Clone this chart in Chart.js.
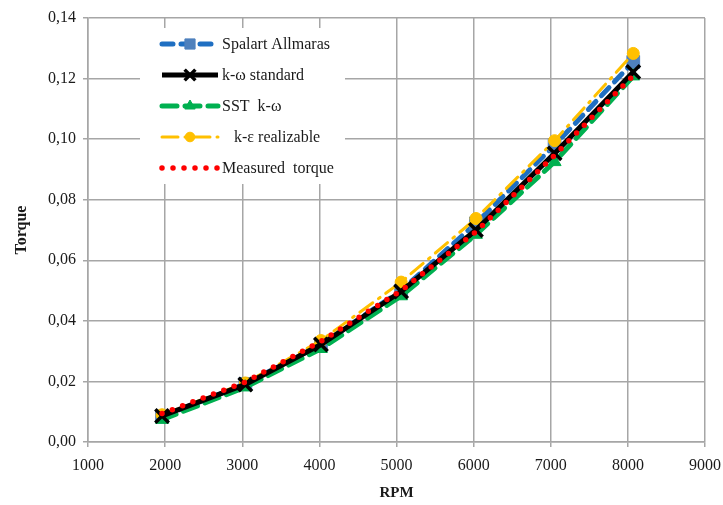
<!DOCTYPE html>
<html>
<head>
<meta charset="utf-8">
<script src="https://cdn.jsdelivr.net/npm/chart.js@4"></script>
<style>
  html, body { margin: 0; padding: 0; background: #fff; }
  #wrap { position: relative; width: 723px; height: 505px; }
</style>
</head>
<body>
<div id="wrap"><canvas id="c" width="723" height="505"></canvas></div>
<script>
/* Torque vs RPM: four CFD turbulence models against the measured torque. */
var RPM       = [1960, 3040, 4020, 5060, 6030, 7050, 8070];
var SPALART   = [0.0084, 0.0192, 0.0322, 0.0500, 0.0722, 0.0980, 0.1255];
var KW_STD    = [0.0086, 0.0190, 0.0322, 0.0497, 0.0700, 0.0953, 0.1222];
var SST_KW    = [0.0074, 0.0181, 0.0308, 0.0482, 0.0685, 0.0925, 0.1208];
var KE_REAL   = [0.0090, 0.0195, 0.0335, 0.0528, 0.0738, 0.0995, 0.1283];
var MEASURED  = [0.0094, 0.0198, 0.0332, 0.0500, 0.0694, 0.0947, 0.1210];
var LABELS    = ["Spalart Allmaras", "k-\u03c9 standard", "SST  k-\u03c9", "   k-\u03b5 realizable", "Measured  torque"];

var GRID = "#a6a6a6";
var SERIF = "'Liberation Serif', 'DejaVu Serif', serif";

function pts(ys) { return RPM.map(function (x, i) { return { x: x, y: ys[i] }; }); }

var datasets = [
  { label: LABELS[0], data: pts(SPALART), borderColor: "#1f6fc2", borderWidth: 5,
    borderDash: [11, 8], borderCapStyle: "round",
    pointStyle: "rect", pointRadius: 9, pointBackgroundColor: "#4f81bd",
    pointBorderColor: "#4f81bd", pointBorderWidth: 1, order: 5 },
  { label: LABELS[1], data: pts(KW_STD), borderColor: "#000", borderWidth: 5,
    pointStyle: "crossRot", pointRadius: 9.5, pointBorderColor: "#000",
    pointBackgroundColor: "#000", pointBorderWidth: 3.5, order: 2 },
  { label: LABELS[2], data: pts(SST_KW), borderColor: "#00b050", borderWidth: 5,
    borderDash: [15, 8], borderCapStyle: "round",
    pointStyle: "triangle", pointRadius: 7.5, pointBackgroundColor: "#00b050",
    pointBorderColor: "#00b050", pointBorderWidth: 1, order: 3 },
  { label: LABELS[3], data: pts(KE_REAL), borderColor: "#ffc000", borderWidth: 3,
    borderDash: [16, 7, 2, 7], borderCapStyle: "round",
    pointStyle: "circle", pointRadius: 6, pointBackgroundColor: "#ffc000",
    pointBorderColor: "#ffc000", pointBorderWidth: 1, order: 4 },
  { label: LABELS[4], data: pts(MEASURED), borderColor: "#ff0000", borderWidth: 5.5,
    borderDash: [0, 11], borderCapStyle: "round",
    pointRadius: 0, order: 1 }
];

/* Legend box drawn inside the plot area, over the grid, Excel style. */
var insideLegend = {
  id: "insideLegend",
  beforeDatasetsDraw: function (chart) {
    var ctx = chart.ctx, a = chart.chartArea;
    var x0 = a.left + 52, y0 = a.top + 10, rowH = 31;
    ctx.save();
    ctx.fillStyle = "#fff";
    ctx.fillRect(x0, y0, 205, 156);
    chart.data.datasets.forEach(function (ds, i) {
      var y = y0 + 16 + i * rowH;
      var lx1 = x0 + 22, lx2 = x0 + 78, mx = x0 + 50;
      ctx.save();
      ctx.strokeStyle = ds.borderColor;
      ctx.lineWidth = ds.borderWidth;
      ctx.lineCap = ds.borderCapStyle || "butt";
      ctx.setLineDash(ds.borderDash || []);
      ctx.beginPath();
      ctx.moveTo(lx1, y);
      ctx.lineTo(lx2, y);
      ctx.stroke();
      ctx.restore();
      if (ds.pointRadius > 0) {
        ctx.save();
        ctx.fillStyle = ds.pointBackgroundColor;
        ctx.strokeStyle = ds.pointBorderColor;
        ctx.lineWidth = ds.pointBorderWidth;
        Chart.helpers.drawPoint(ctx, {
          pointStyle: ds.pointStyle, radius: ds.pointRadius * 0.8,
          rotation: 0, borderWidth: ds.pointBorderWidth
        }, mx, y);
        ctx.restore();
      }
      ctx.fillStyle = "#1a1a1a";
      ctx.font = "16px " + SERIF;
      ctx.textBaseline = "middle";
      ctx.fillText(ds.label, x0 + 82, y + 1);
    });
    ctx.restore();
  }
};

new Chart(document.getElementById("c"), {
  type: "scatter",
  data: { datasets: datasets },
  plugins: [insideLegend],
  options: {
    responsive: false, animation: false,
    layout: { padding: { top: 18, right: 18, left: 0, bottom: 0 } },
    elements: { line: { tension: 0 } },
    datasets: { scatter: { showLine: true } },
    plugins: { legend: { display: false }, tooltip: { enabled: false } },
    scales: {
      x: {
        type: "linear", min: 1000, max: 9000,
        afterFit: function (s) { s.height = 63; s.paddingRight = 0; s.paddingLeft = 0; },
        ticks: { stepSize: 1000, color: "#1a1a1a", padding: 9,
                 font: { family: SERIF, size: 16 },
                 callback: function (v) { return String(v); } },
        grid: { color: GRID, lineWidth: 1.5, tickLength: 5, tickColor: GRID },
        border: { color: GRID, width: 1.5 },
        title: { display: true, text: "RPM", color: "#1a1a1a",
                 font: { family: SERIF, size: 15, weight: "bold" },
                 padding: { top: 0, bottom: 3 } }
      },
      y: {
        min: 0, max: 0.14,
        afterFit: function (s) { s.width = 88; },
        ticks: { stepSize: 0.02, color: "#1a1a1a", padding: 7,
                 font: { family: SERIF, size: 16 },
                 callback: function (v) { return v.toFixed(2).replace(".", ","); } },
        grid: { color: GRID, lineWidth: 1.5, tickLength: 5, tickColor: GRID },
        border: { color: GRID, width: 1.5 },
        title: { display: true, text: "Torque", color: "#1a1a1a",
                 font: { family: SERIF, size: 16, weight: "bold" },
                 padding: { top: 12, bottom: 0 } }
      }
    }
  }
});
</script>
</body>
</html>
